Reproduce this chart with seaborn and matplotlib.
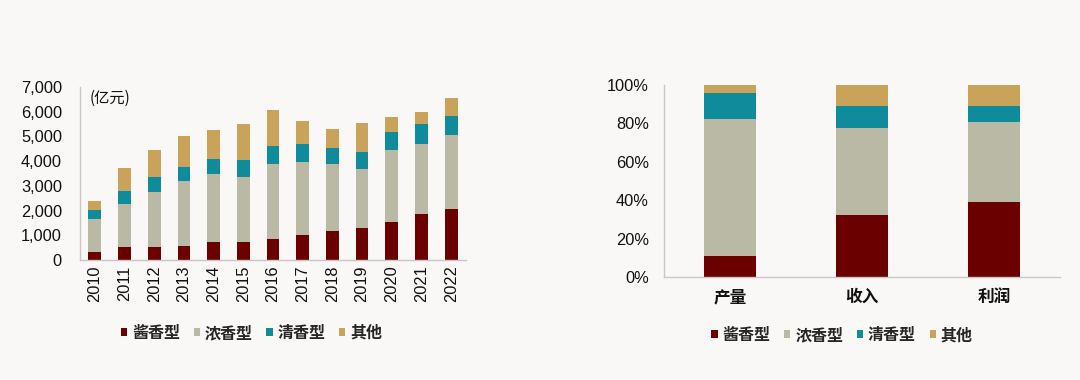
import numpy as np
import pandas as pd
import seaborn as sns
import matplotlib.pyplot as plt
from matplotlib.patches import Patch
from matplotlib.ticker import FuncFormatter

# ---- data -------------------------------------------------------------
years = [str(y) for y in range(2010, 2023)]
series = ["酱香型", "浓香型", "清香型", "其他"]
jiang = [340, 510, 510, 570, 740, 740, 860, 1000, 1180, 1300, 1530, 1850, 2080]
nong = [1310, 1760, 2230, 2610, 2730, 2610, 3030, 2950, 2710, 2380, 2930, 2850, 2970]
qing = [380, 540, 610, 600, 610, 680, 730, 730, 660, 700, 720, 790, 790]
other = [370, 910, 1110, 1220, 1160, 1470, 1460, 930, 750, 1160, 600, 480, 730]

metrics = ["产量", "收入", "利润"]
share_jiang = [10.8, 32.3, 39.3]
share_nong = [71.3, 45.1, 41.2]
share_qing = [13.6, 11.8, 8.7]
share_other = [4.3, 10.8, 10.8]

colors = ["#6B0000", "#BAB9A6", "#0F8B9B", "#C9A35A"]
bg = "#F9F8F6"

sns.set_style("white")
plt.rcParams["font.family"] = ["Liberation Sans", "Noto Sans CJK SC", "DejaVu Sans"]

fig = plt.figure(figsize=(10.8, 3.8), dpi=100, facecolor=bg)
ax1 = fig.add_axes([0.0741, 0.3158, 0.3574, 0.4553], facecolor=bg)
ax2 = fig.add_axes([0.6148, 0.2711, 0.3667, 0.5053], facecolor=bg)


def stacked(ax, cats, parts, width):
    # draw cumulative totals, tallest first, so lower segments sit on top
    cum = np.cumsum(np.array(parts), axis=0)
    for i in range(len(parts) - 1, -1, -1):
        df = pd.DataFrame({"cat": cats, "val": cum[i]})
        sns.barplot(data=df, x="cat", y="val", color=colors[i], width=width,
                    saturation=1, linewidth=0, ax=ax)


def style(ax, n, ypad):
    for s in ["top", "right"]:
        ax.spines[s].set_visible(False)
    for s in ["left", "bottom"]:
        ax.spines[s].set_color("#C8C8C8")
        ax.spines[s].set_linewidth(1)
    ax.set_xlim(-0.5, n - 0.5)
    ax.set_xticks(np.arange(-0.5, n, 1.0), minor=True)
    ax.tick_params(axis="x", which="minor", length=5, color="#C8C8C8", width=1)
    ax.tick_params(axis="x", which="major", length=0)
    ax.tick_params(axis="y", length=0, labelsize=11.8, labelcolor="#111111", pad=ypad)
    ax.set_xlabel("")
    ax.set_ylabel("")


# left: revenue by type
stacked(ax1, years, [jiang, nong, qing, other], 0.43)
style(ax1, len(years), 13)
ax1.set_ylim(0, 7000)
ax1.set_yticks(range(0, 7001, 1000))
ax1.yaxis.set_major_formatter(FuncFormatter(lambda v, p: f"{int(v):,}"))
ax1.tick_params(axis="x", which="major", labelsize=11.8, labelcolor="#111111",
                labelrotation=90, pad=4)
ax1.text(0.025, 0.985, "(亿元)", transform=ax1.transAxes, fontsize=11,
         color="#111111", va="top", ha="left",
         family=["Noto Sans CJK SC", "DejaVu Sans"])

# right: shares
stacked(ax2, metrics, [share_jiang, share_nong, share_qing, share_other], 0.4)
style(ax2, len(metrics), 11)
ax2.set_ylim(0, 100)
ax2.set_yticks(range(0, 101, 20))
ax2.yaxis.set_major_formatter(FuncFormatter(lambda v, p: f"{int(v)}%"))
ax2.tick_params(axis="x", which="major", labelsize=12, labelcolor="#111111", pad=8)
for lab in ax2.get_xticklabels():
    lab.set_family(["Noto Sans CJK SC", "DejaVu Sans"])
    lab.set_fontweight("bold")

handles = [Patch(facecolor=c, edgecolor="none") for c in colors]
for (x, y) in [(0.2329, 0.1237), (0.7796, 0.118)]:
    fig.legend(handles, series, loc="center", bbox_to_anchor=(x, y), ncol=4,
               frameon=False, handlelength=0.4, handleheight=0.4,
               handletextpad=0.3, columnspacing=0.85,
               prop={"family": ["Noto Sans CJK SC", "DejaVu Sans"],
                     "weight": "bold", "size": 11.5})

fig.savefig("out.png", dpi=100, facecolor=bg)
